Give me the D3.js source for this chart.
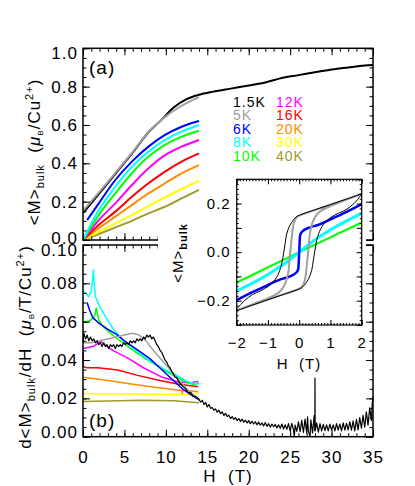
<!DOCTYPE html>
<html>
<head>
<meta charset="utf-8">
<script src="https://cdn.jsdelivr.net/npm/d3@7"></script>
<style>
  body { margin: 0; background: #fff; }
  svg { font-family: "Liberation Sans", Arial, sans-serif; }
</style>
</head>
<body>
<div id="chart"></div>
<script>
// ---- data ----
// panel (a): magnetisation vs field
const mBlackH = [0, 1.9, 3.9, 5.9, 7.9, 9.5, 10.9, 12.5, 14, 15.7, 18, 20, 22, 24, 26, 28, 30, 32, 34, 35];
const mBlackV = [0.14, 0.24, 0.345, 0.45, 0.562, 0.628, 0.69, 0.735, 0.758, 0.774, 0.791, 0.806, 0.822, 0.845, 0.86, 0.875, 0.889, 0.9, 0.91, 0.913];
const mGrayH = [0, 1.9, 3.9, 5.9, 7.9, 9.5, 11.5, 14];
const mGrayV = [0.152, 0.247, 0.35, 0.454, 0.563, 0.628, 0.69, 0.745];
const mBlueH = [0.5, 1.9, 3.9, 5.9, 7.9, 9.9, 11.9, 14];
const mBlueV = [0.104, 0.191, 0.313, 0.409, 0.487, 0.548, 0.591, 0.621];
const mH = [0, 1.9, 3.9, 5.9, 7.9, 9.9, 11.9, 14];
const mCyan = [0, 0.156, 0.278, 0.382, 0.461, 0.522, 0.565, 0.6];
const mGreen = [0, 0.13, 0.243, 0.348, 0.435, 0.496, 0.539, 0.57];
const mMagenta = [0, 0.104, 0.191, 0.287, 0.374, 0.443, 0.487, 0.522];
const mRed = [0, 0.078, 0.148, 0.226, 0.296, 0.357, 0.409, 0.452];
const mOrange = [0, 0.061, 0.122, 0.183, 0.243, 0.296, 0.348, 0.391];
const mYellow = [0, 0.043, 0.087, 0.13, 0.177, 0.223, 0.266, 0.309];
const mOlive = [0, 0.031, 0.066, 0.1, 0.139, 0.174, 0.217, 0.261];

// panel (b): dM/dH
const dBlackH = [0, 0.1, 0.3, 0.5, 0.7, 0.9, 1.1, 1.3, 1.5, 1.7, 1.9, 2.1, 2.3, 2.5, 2.7, 2.9, 3.1, 3.3, 3.5, 3.7, 3.9,
  4.1, 4.3, 4.5, 4.7, 4.9, 5.1, 5.3, 5.5, 5.7, 5.9, 6.1, 6.3, 6.5, 6.7, 6.9, 7.1, 7.3, 7.5, 7.7, 7.9, 8.1, 8.3, 8.5,
  8.7, 8.9, 9.1, 9.3, 9.5, 9.7, 9.9, 10.1, 10.3, 10.5, 10.7, 10.9, 11.1, 11.3, 11.5, 11.7, 11.9, 12.1, 12.4, 12.7,
  13.0, 13.3, 13.6,
  14.0, 14.2, 14.4, 14.6, 14.8, 15.0, 15.2, 15.4, 15.6, 15.8, 16.0, 16.2, 16.4, 16.6, 16.8, 17.0, 17.2, 17.4, 17.6, 17.8,
  18.0, 18.2, 18.4, 18.6, 18.8, 19.0, 19.2, 19.4, 19.6, 19.8, 20.0, 20.2, 20.4, 20.6, 20.8, 21.0, 21.2, 21.4, 21.6, 21.8,
  22.0, 22.2, 22.4, 22.6, 22.8, 23.0, 23.2, 23.4, 23.6, 23.8, 24.0, 24.2, 24.4, 24.6, 24.8, 25.0, 25.2, 25.4, 25.5, 25.6,
  25.8, 26.0, 26.2, 26.4, 26.6, 26.8, 27.0, 27.1, 27.2, 27.4, 27.5, 27.7, 27.9, 27.98, 28.0, 28.02, 28.2, 28.4, 28.6, 28.8,
  29.0, 29.2, 29.4, 29.6, 29.8, 30.0, 30.2, 30.4, 30.6, 30.8, 31.0, 31.2, 31.4, 31.6, 31.8, 32.0, 32.2, 32.4, 32.6, 32.8,
  33.0, 33.2, 33.4, 33.6, 33.8, 34.0, 34.2, 34.4, 34.6, 34.8, 34.9, 35.0];
const dBlackV = [0.049, 0.054, 0.051, 0.053, 0.050, 0.052, 0.050, 0.051, 0.049, 0.050, 0.048, 0.049, 0.047, 0.049, 0.047, 0.048, 0.046, 0.048, 0.047, 0.048, 0.046,
  0.048, 0.047, 0.048, 0.047, 0.049, 0.048, 0.049, 0.048, 0.050, 0.049, 0.050, 0.049, 0.051, 0.050, 0.051, 0.050, 0.052, 0.051, 0.053, 0.052, 0.053, 0.051, 0.052,
  0.050, 0.048, 0.047, 0.045, 0.044, 0.042, 0.040, 0.039, 0.037, 0.036, 0.034, 0.033, 0.031, 0.031, 0.029, 0.028, 0.027, 0.026, 0.025, 0.023,
  0.023, 0.021, 0.021,
  0.0195, 0.0180, 0.0190, 0.0168, 0.0178, 0.0155, 0.0168, 0.0148, 0.0152, 0.0138, 0.0145, 0.0128, 0.0138, 0.0120, 0.0130, 0.0110, 0.0122, 0.0105, 0.0112, 0.0095,
  0.0105, 0.0090, 0.0100, 0.0084, 0.0094, 0.0080, 0.0092, 0.0076, 0.0086, 0.0072, 0.0084, 0.0068, 0.0080, 0.0066, 0.0078, 0.0062, 0.0076, 0.0060, 0.0072, 0.0056,
  0.0074, 0.0054, 0.0068, 0.0050, 0.0066, 0.0052, 0.0064, 0.0046, 0.0062, 0.0044, 0.0066, 0.0040, 0.0062, 0.0038, 0.0068, 0.0030, 0.0070, 0.0036, 0.0000, 0.0060,
  0.0028, 0.0078, 0.0026, 0.0086, 0.0022, 0.0092, 0.0018, 0.0104, 0.0030, 0.0000, 0.0088, 0.0020, 0.0110, 0.0030, 0.0306, 0.0030, 0.0072, 0.0024, 0.0068, 0.0030,
  0.0064, 0.0032, 0.0062, 0.0030, 0.0066, 0.0034, 0.0062, 0.0030, 0.0068, 0.0034, 0.0066, 0.0030, 0.0072, 0.0034, 0.0070, 0.0036, 0.0078, 0.0034, 0.0082, 0.0030,
  0.0090, 0.0036, 0.0100, 0.0044, 0.0112, 0.0050, 0.0130, 0.0060, 0.0150, 0.0085, 0.0170, 0.0210];
const dGrayH = [0, 1, 2, 3, 4, 5, 6, 6.8, 7.6, 8.5, 9.5, 10.5, 11.5, 12.5, 13.3, 14.1];
const dGrayV = [0.049, 0.049, 0.050, 0.051, 0.052, 0.053, 0.054, 0.053, 0.050, 0.045, 0.040, 0.035, 0.030, 0.025, 0.022, 0.019];
const dCyanH = [0, 0.3, 0.7, 1.0, 1.15, 1.25, 1.35, 1.5, 2.0, 2.8, 3.6, 4.8, 6.4, 8, 9.7, 11.3, 12.5, 13.5, 14.0];
const dCyanV = [0.076, 0.075, 0.073, 0.076, 0.082, 0.087, 0.080, 0.073, 0.068, 0.062, 0.0565, 0.0505, 0.045, 0.040, 0.0355, 0.032, 0.029, 0.0275, 0.0285];
const dGreenH = [0, 0.5, 1.0, 1.4, 1.6, 1.75, 1.9, 2.4, 3.6, 4.8, 6.4, 8, 9.7, 11.3, 12.5, 13.5, 14.0];
const dGreenV = [0.060, 0.060, 0.061, 0.063, 0.067, 0.064, 0.061, 0.0575, 0.053, 0.049, 0.044, 0.0395, 0.035, 0.031, 0.0285, 0.027, 0.028];
const dBlueH = [0.5, 0.8, 1.2, 2.0, 3.0, 4.0, 5.0, 6.0, 7.0, 8.0, 9.0, 10, 11, 12, 13, 14.1];
const dBlueV = [0.070, 0.066, 0.062, 0.059, 0.056, 0.0535, 0.050, 0.047, 0.044, 0.041, 0.037, 0.033, 0.029, 0.025, 0.022, 0.019];
const dMagentaH = [0, 1.2, 1.8, 2.2, 2.6, 3.6, 5.4, 7.4, 9.4, 11.4, 13.0, 13.9];
const dMagentaV = [0.046, 0.047, 0.0487, 0.0496, 0.048, 0.045, 0.041, 0.0357, 0.0313, 0.0287, 0.028, 0.029];
const dRedH = [0, 0.03, 0.5, 1.8, 4.2, 6.6, 9.0, 11.4, 13.9];
const dRedV = [0.044, 0.0365, 0.036, 0.036, 0.0348, 0.032, 0.0296, 0.0275, 0.026];
const dOrangeH = [0, 2.6, 5.4, 8.2, 11.4, 11.9, 12.0, 12.1, 13.9];
const dOrangeV = [0.031, 0.0296, 0.0278, 0.026, 0.0244, 0.0242, 0.0226, 0.0242, 0.0235];
const dYellowH = [0, 3.4, 7.4, 11.4, 13.5, 14];
const dYellowV = [0.0226, 0.0223, 0.0223, 0.022, 0.0222, 0.023];
const dOliveH = [0, 3, 7, 11, 14];
const dOliveV = [0.0183, 0.0186, 0.019, 0.0188, 0.0177];

// inset: hysteresis loops
const inGreenH = [-2, 0, 2];
const inGreenV = [-0.125, 0, 0.122];
const inCyanH = [-2, -1, -0.5, 0, 0.5, 1, 2];
const inCyanV = [-0.16, -0.092, -0.05, 0, 0.05, 0.092, 0.16];
const inBlueH = [-2, -1.5, -1, -0.6, -0.3, -0.1, -0.03, 0, 0.03, 0.1, 0.3, 0.6, 1, 1.5, 2];
const inBlueV = [-0.198, -0.165, -0.135, -0.112, -0.1, -0.085, -0.07, 0, 0.07, 0.085, 0.1, 0.112, 0.135, 0.165, 0.198];
const inBlackH = [2, 1.5, 1, 0.5, 0, -0.1, -0.2, -0.3, -0.4, -0.45, -0.5, -0.56, -0.65, -0.72, -0.85, -1.0, -1.25, -1.5, -1.75, -2,
  -1.5, -1, -0.5, 0, 0.1, 0.2, 0.3, 0.4, 0.45, 0.5, 0.56, 0.65, 0.72, 0.85, 1, 1.25, 1.5, 1.75, 2];
const inBlackV = [0.24, 0.218, 0.196, 0.174, 0.152, 0.145, 0.13, 0.11, 0.075, 0.035, -0.005, -0.048, -0.085, -0.103, -0.125, -0.142, -0.16, -0.175, -0.2, -0.238,
  -0.218, -0.196, -0.174, -0.152, -0.145, -0.13, -0.11, -0.075, -0.035, 0.005, 0.048, 0.085, 0.103, 0.125, 0.142, 0.16, 0.175, 0.2, 0.238];
const inGrayH = [2, 1, 0, -0.1, -0.18, -0.23, -0.27, -0.31, -0.34, -0.4, -0.45, -0.6, -0.72, -1, -1.46, -2,
  -1, 0, 0.1, 0.18, 0.23, 0.27, 0.31, 0.34, 0.4, 0.45, 0.6, 0.72, 1, 1.46, 2];
const inGrayV = [0.24, 0.195, 0.15, 0.14, 0.117, 0.07, 0.02, -0.03, -0.076, -0.11, -0.13, -0.16, -0.172, -0.19, -0.213, -0.24,
  -0.195, -0.15, -0.14, -0.117, -0.07, -0.02, 0.03, 0.076, 0.11, 0.13, 0.16, 0.172, 0.19, 0.213, 0.24];

const legendRows = [["1.5K", "#000000", "12K", "#ff00ff"], ["5K", "#a0a0a0", "16K", "#ff0000"],
  ["6K", "#0000ff", "20K", "#ff8c00"], ["8K", "#00ffff", "30K", "#ffff00"], ["10K", "#00ff00", "40K", "#a09a2a"]];

// ---- drawing ----
const svg = d3.select("#chart").append("svg").attr("width", 415).attr("height", 486);

const x = d3.scaleLinear().domain([0, 35]).range([83, 373]);
const yTop = d3.scaleLinear().domain([0, 1]).range([240, 48.3]);
const yBot = d3.scaleLinear().domain([0, 0.1]).range([436.7, 245]);
const xIn = d3.scaleLinear().domain([-2, 2]).range([236.7, 361.7]);
const yIn = d3.scaleLinear().domain([-0.3, 0.3]).range([325, 179.3]);

const zip = (hs, vs) => hs.map((h, i) => [h, vs[i]]);

function drawLine(xs, ys, hs, vs, color, width, curve) {
    const line = d3.line().x(d => xs(d[0])).y(d => ys(d[1])).curve(curve || d3.curveLinear);
    svg.append("path").datum(zip(hs, vs))
        .attr("d", line).attr("fill", "none")
        .attr("stroke", color).attr("stroke-width", width)
        .attr("stroke-linejoin", "round");
}

// panel (a) curves
const smooth = d3.curveMonotoneX;
drawLine(x, yTop, mH, mOlive, "#a09a2a", 2, smooth);
drawLine(x, yTop, mH, mYellow, "#ffff00", 2, smooth);
drawLine(x, yTop, mH, mOrange, "#ff8c00", 2, smooth);
drawLine(x, yTop, mH, mRed, "#ff0000", 2, smooth);
drawLine(x, yTop, mH, mMagenta, "#ff00ff", 2, smooth);
drawLine(x, yTop, mH, mGreen, "#00ff00", 2, smooth);
drawLine(x, yTop, mH, mCyan, "#00ffff", 2, smooth);
drawLine(x, yTop, mBlueH, mBlueV, "#0000ff", 2, smooth);
drawLine(x, yTop, mBlackH, mBlackV, "#000000", 2, smooth);
drawLine(x, yTop, mGrayH, mGrayV, "#a0a0a0", 2, smooth);

// panel (b) curves
drawLine(x, yBot, dOliveH, dOliveV, "#a09a2a", 1.5);
drawLine(x, yBot, dYellowH, dYellowV, "#ffff00", 1.5);
drawLine(x, yBot, dOrangeH, dOrangeV, "#ff8c00", 1.5);
drawLine(x, yBot, dRedH, dRedV, "#ff0000", 1.5);
drawLine(x, yBot, dMagentaH, dMagentaV, "#ff00ff", 1.5);
drawLine(x, yBot, dGreenH, dGreenV, "#00ff00", 1.5);
drawLine(x, yBot, dCyanH, dCyanV, "#00ffff", 1.5);
drawLine(x, yBot, dBlueH, dBlueV, "#0000ff", 1.5);
drawLine(x, yBot, dGrayH, dGrayV, "#a0a0a0", 1.5);
drawLine(x, yBot, dBlackH, dBlackV, "#000000", 1.2);

// axes helper: inward ticks on all four sides, labels on left (and bottom when asked)
function styleAxis(g, fontSize) {
    g.select(".domain").remove();
    g.selectAll("line").attr("stroke", "#000").attr("stroke-width", 1);
    g.selectAll("text").attr("font-family", "'Liberation Sans', Arial, sans-serif")
        .attr("font-size", fontSize).attr("letter-spacing", "1px").attr("fill", "#000");
}

function panelAxes(xs, ys, yMajor, yMinor, yFmt, xLabels, opts) {
    const [x0, x1] = xs.range();
    const [y0, y1] = ys.range();
    const fs = opts.fontSize;
    const big = opts.big, small = opts.small;
    const gb = svg.append("g").attr("transform", `translate(0,${y0})`)
        .call(d3.axisBottom(xs).tickValues(opts.xMajor).tickSizeInner(-big).tickSizeOuter(0)
            .tickPadding(opts.xPad).tickFormat(xLabels ? opts.xFmt : ""));
    styleAxis(gb, fs);
    styleAxis(svg.append("g").attr("transform", `translate(0,${y0})`)
        .call(d3.axisBottom(xs).tickValues(opts.xMinor).tickSize(-small).tickFormat("")), fs);
    styleAxis(svg.append("g").attr("transform", `translate(0,${y1})`)
        .call(d3.axisTop(xs).tickValues(opts.xMajor).tickSize(-big).tickFormat("")), fs);
    styleAxis(svg.append("g").attr("transform", `translate(0,${y1})`)
        .call(d3.axisTop(xs).tickValues(opts.xMinor).tickSize(-small).tickFormat("")), fs);
    const gl = svg.append("g").attr("transform", `translate(${x0},0)`)
        .call(d3.axisLeft(ys).tickValues(yMajor).tickSizeInner(-big).tickSizeOuter(0)
            .tickPadding(opts.yPad).tickFormat(yFmt));
    styleAxis(gl, fs);
    styleAxis(svg.append("g").attr("transform", `translate(${x0},0)`)
        .call(d3.axisLeft(ys).tickValues(yMinor).tickSize(-small).tickFormat("")), fs);
    styleAxis(svg.append("g").attr("transform", `translate(${x1},0)`)
        .call(d3.axisRight(ys).tickValues(yMajor).tickSize(-big).tickFormat("")), fs);
    styleAxis(svg.append("g").attr("transform", `translate(${x1},0)`)
        .call(d3.axisRight(ys).tickValues(yMinor).tickSize(-small).tickFormat("")), fs);
    svg.append("rect").attr("x", x0).attr("y", y1).attr("width", x1 - x0).attr("height", y0 - y1)
        .attr("fill", "none").attr("stroke", "#000").attr("stroke-width", opts.frame);
    return gl;
}

const mainOpts = {
    fontSize: 17, big: 7, small: 3.5, xPad: 14, yPad: 5, frame: 1.5,
    xMajor: d3.range(0, 36, 5), xMinor: d3.range(0, 36, 1), xFmt: d3.format("d")
};
const glTop = panelAxes(x, yTop, d3.range(0, 1.01, 0.2), d3.range(0, 1.001, 0.05), d3.format(".1f"), false, mainOpts);
glTop.selectAll("text").attr("dy", d => d > 0.99 ? "0.62em" : (d < 0.01 ? "0.22em" : "0.32em"));
const glBot = panelAxes(x, yBot, d3.range(0, 0.101, 0.02), d3.range(0, 0.1001, 0.005), d3.format(".2f"), true, mainOpts);
glBot.selectAll("text").attr("dy", d => d > 0.099 ? "0.62em" : (d < 0.001 ? "0.05em" : "0.32em"));

// panel labels
svg.append("text").attr("x", 89).attr("y", 74).attr("font-size", 19).attr("letter-spacing", "1px").text("(a)");
svg.append("text").attr("x", 89).attr("y", 427).attr("font-size", 19).attr("letter-spacing", "1px").text("(b)");

// axis titles
svg.append("text").attr("x", 228).attr("y", 482).attr("text-anchor", "middle")
    .attr("font-size", 17).attr("letter-spacing", "1px").attr("xml:space", "preserve").text("H  (T)");

function yTitle(tx, ty, parts) {
    const t = svg.append("text").attr("transform", `translate(${tx},${ty}) rotate(-90)`)
        .attr("text-anchor", "middle").attr("font-size", 17).attr("letter-spacing", "1px")
        .attr("xml:space", "preserve");
    parts.forEach(p => {
        const s = t.append("tspan").text(p.t).attr("font-size", p.fs || 17);
        if (p.dy) s.attr("dy", p.dy);
        if (p.it) s.attr("font-style", "italic");
    });
}
yTitle(40, 152, [
    {t: "<M>"}, {t: "bulk", fs: 11, dy: 4}, {t: "  (", dy: -4}, {t: "μ", it: true},
    {t: "B", fs: 8, dy: 3}, {t: "/Cu", dy: -3}, {t: "2+", fs: 11, dy: -7}, {t: ")", dy: 7}
]);
yTitle(31, 347, [
    {t: "d<M>"}, {t: "bulk", fs: 11, dy: 4}, {t: "/dH  (", dy: -4}, {t: "μ", it: true},
    {t: "B", fs: 8, dy: 3}, {t: "/T/Cu", dy: -3}, {t: "2+", fs: 11, dy: -7}, {t: ")", dy: 7}
]);

// legend
legendRows.forEach((r, i) => {
    const yy = 106.5 + i * 13.5;
    svg.append("text").attr("x", 233).attr("y", yy).attr("font-size", 14).attr("letter-spacing", "1px")
        .attr("fill", r[1]).text(r[0]);
    svg.append("text").attr("x", 276).attr("y", yy).attr("font-size", 14).attr("letter-spacing", "1px")
        .attr("fill", r[3]).text(r[2]);
});

// white area behind the inset
svg.append("rect").attr("x", 158).attr("y", 214).attr("width", 208).attr("height", 86).attr("fill", "#fff");
svg.append("rect").attr("x", 214).attr("y", 172).attr("width", 152).attr("height", 199).attr("fill", "#fff");

// inset curves
drawLine(xIn, yIn, inGreenH, inGreenV, "#00ff00", 2);
drawLine(xIn, yIn, inCyanH, inCyanV, "#00ffff", 3, d3.curveMonotoneX);
drawLine(xIn, yIn, inBlueH, inBlueV, "#0000ff", 2.5, d3.curveMonotoneX);
drawLine(xIn, yIn, inGrayH, inGrayV, "#a0a0a0", 2, d3.curveCatmullRom);
drawLine(xIn, yIn, inBlackH, inBlackV, "#000000", 1, d3.curveCatmullRom);

const insetOpts = {
    fontSize: 15, big: 5, small: 2, xPad: 12, yPad: 6, frame: 1.2,
    xMajor: d3.range(-2, 2.01, 1), xMinor: d3.range(-2, 2.001, 0.1),
    xFmt: d => d < 0 ? "\u2212" + Math.abs(d) : String(d)
};
panelAxes(xIn, yIn, d3.range(-0.3, 0.301, 0.1).map(v => Math.round(v * 10) / 10),
    d3.range(-0.3, 0.3001, 0.02), d => Math.abs(Math.round(d * 10) % 2) === 0 ? (d < -0.01 ? "\u2212" : "") + Math.abs(d).toFixed(1) : "",
    true, insetOpts);
svg.append("text").attr("x", 299).attr("y", 369).attr("text-anchor", "middle")
    .attr("font-size", 15).attr("letter-spacing", "1px").attr("xml:space", "preserve").text("H  (T)");
const it = svg.append("text").attr("transform", "translate(183,253) rotate(-90)")
    .attr("text-anchor", "middle").attr("font-size", 15).attr("letter-spacing", "1px");
it.append("tspan").text("<M>");
it.append("tspan").text("bulk").attr("font-size", 11).attr("font-weight", "bold").attr("dy", 4);
</script>
</body>
</html>
